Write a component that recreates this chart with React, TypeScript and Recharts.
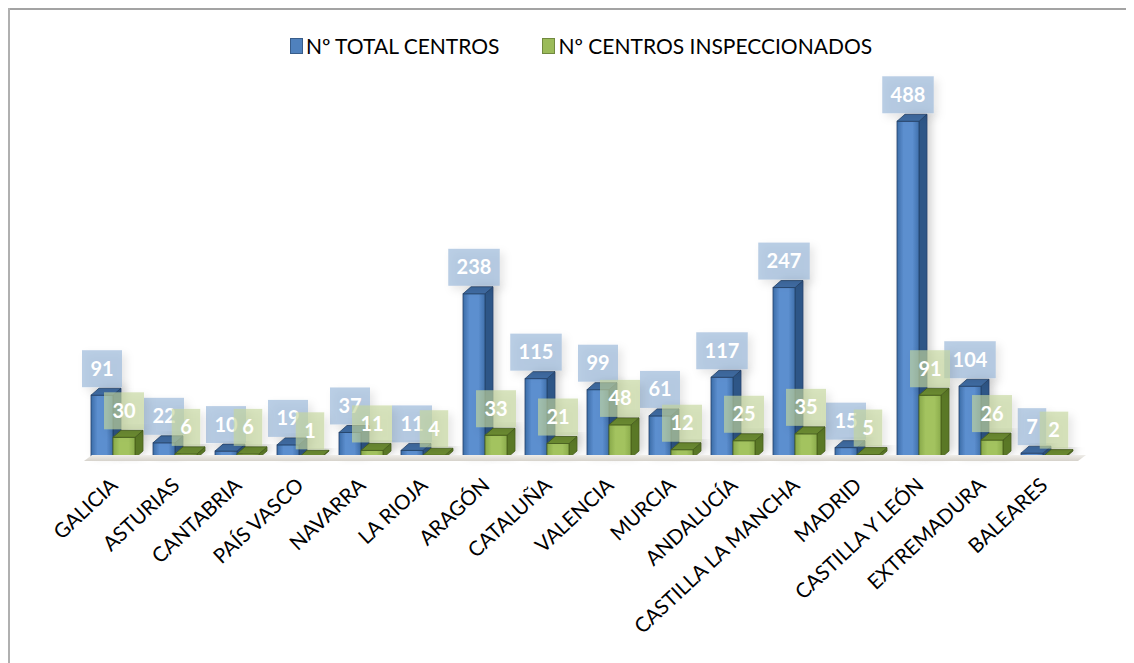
import React from "react";
import { BarChart, Bar, XAxis, YAxis, LabelList, Legend, ReferenceLine } from "recharts";

const categories = [
  "GALICIA", "ASTURIAS", "CANTABRIA", "PAÍS VASCO", "NAVARRA", "LA RIOJA", "ARAGÓN", "CATALUÑA",
  "VALENCIA", "MURCIA", "ANDALUCÍA", "CASTILLA LA MANCHA", "MADRID", "CASTILLA Y LEÓN", "EXTREMADURA", "BALEARES",
];
const totalCentros = [91, 22, 10, 19, 37, 11, 238, 115, 99, 61, 117, 247, 15, 488, 104, 7];
const centrosInspeccionados = [30, 6, 6, 1, 11, 4, 33, 21, 48, 12, 25, 35, 5, 91, 26, 2];
const seriesNames = ["Nº TOTAL CENTROS", "Nº CENTROS INSPECCIONADOS"];

const data = categories.map((name, i) => ({
  name,
  total: totalCentros[i],
  insp: centrosInspeccionados[i],
}));

const FONT = "Lato, 'Open Sans', sans-serif";
const DX = 8;
const DY = 7;

const palette = {
  blue: { front: "url(#gBlue)", top: "#3F6CA3", side: "#2F5687", stroke: "#24426A", legend: "#4F81BD", legendStroke: "#385D8A", box: "rgba(149,179,215,0.65)" },
  green: { front: "url(#gGreen)", top: "#6C8C30", side: "#5A7826", stroke: "#465E1D", legend: "#9BBB59", legendStroke: "#71893F", box: "rgba(195,214,155,0.65)" },
};

const make3D = (c: any) => (props: any) => {
  const { x, y, width, height } = props;
  if (x == null || y == null) return null;
  const w = width;
  const h = Math.max(height, 0);
  return (
    <g filter="url(#barShadow)">
      <polygon
        points={`${x + w},${y} ${x + w + DX},${y - DY} ${x + w + DX},${y + h - DY} ${x + w},${y + h}`}
        fill={c.side}
        stroke={c.stroke}
        strokeWidth={0.8}
      />
      <rect x={x} y={y} width={w} height={h} fill={c.front} stroke={c.stroke} strokeWidth={0.8} />
      <polygon
        points={`${x},${y} ${x + DX},${y - DY} ${x + w + DX},${y - DY} ${x + w},${y}`}
        fill={c.top}
        stroke={c.stroke}
        strokeWidth={0.8}
      />
    </g>
  );
};

const makeLabel = (c: any) => (props: any) => {
  const { x, y, width, value } = props;
  if (x == null || y == null) return null;
  const text = String(value);
  const bw = text.length * 11.5 + 17;
  const bh = 37;
  const cx = x + width / 2;
  const by = y - 8 - bh;
  return (
    <g>
      <rect x={cx - bw / 2} y={by} width={bw} height={bh} fill={c.box} filter="url(#boxShadow)" />
      <text
        x={cx}
        y={by + bh / 2 + 7}
        textAnchor="middle"
        fill="#ffffff"
        fontFamily={FONT}
        fontWeight={700}
        fontSize={20}
      >
        {text}
      </text>
    </g>
  );
};

const AxisTick = (props: any) => {
  const { x, y, payload } = props;
  const tx = x + 6;
  const ty = y + 21;
  return (
    <text
      x={tx}
      y={ty}
      transform={`rotate(-43, ${tx}, ${ty})`}
      textAnchor="end"
      fill="#000"
      fontFamily={FONT}
      fontSize={20.5}
    >
      {payload.value}
    </text>
  );
};

const Floor = (props: any) => {
  const { x1, x2, y1 } = props;
  if (x1 == null) return null;
  const l = x1 + 2;
  const r = x2 + 4;
  return (
    <polygon
      points={`${l},${y1 + 3} ${r},${y1 + 3} ${r + DX},${y1 - 3} ${l + DX},${y1 - 3}`}
      fill="url(#gFloor)"
    />
  );
};

const LegendContent = () => {
  const items = [palette.blue, palette.green];
  return (
    <div style={{ display: "flex", justifyContent: "center", alignItems: "center", fontFamily: FONT, fontSize: 21, color: "#000" }}>
      {seriesNames.map((n, i) => (
        <div key={n} style={{ display: "flex", alignItems: "center", marginLeft: i === 0 ? 0 : 43 }}>
          <span
            style={{
              display: "inline-block",
              width: 11,
              height: 14,
              background: items[i].legend,
              border: `1px solid ${items[i].legendStroke}`,
              marginRight: 3,
            }}
          />
          <span>{n}</span>
        </div>
      ))}
    </div>
  );
};

export default function App() {
  return (
    <div style={{ position: "relative", width: 1126, height: 655 }}>
      <div style={{ position: "absolute", left: 0, top: 0, width: 1126, height: 2, background: "#A3A3A3" }} />
      <div style={{ position: "absolute", left: 0, top: 0, width: 2, height: 655, background: "#B0B0B0" }} />
      <div style={{ position: "absolute", left: 0, top: 0 }}>
        <BarChart
          width={1126}
          height={655}
          data={data}
          margin={{ top: 105, right: 60, bottom: 5, left: 74 }}
          barGap={0}
          barSize={22}
        >
          <defs>
            <linearGradient id="gBlue" x1="0" y1="0" x2="1" y2="0">
              <stop offset="0%" stopColor="#3C6CA8" />
              <stop offset="30%" stopColor="#5C8FCF" />
              <stop offset="70%" stopColor="#5C8FCF" />
              <stop offset="100%" stopColor="#4070AC" />
            </linearGradient>
            <linearGradient id="gGreen" x1="0" y1="0" x2="1" y2="0">
              <stop offset="0%" stopColor="#88A94A" />
              <stop offset="30%" stopColor="#A3C35F" />
              <stop offset="70%" stopColor="#A3C35F" />
              <stop offset="100%" stopColor="#8BAC4C" />
            </linearGradient>
            <linearGradient id="gFloor" x1="0" y1="0" x2="0" y2="1">
              <stop offset="0%" stopColor="#EFEDE9" />
              <stop offset="100%" stopColor="#D6D2CB" />
            </linearGradient>
            <filter id="barShadow" x="-50%" y="-20%" width="200%" height="140%">
              <feDropShadow dx="4" dy="-2" stdDeviation="4" floodColor="#000" floodOpacity="0.18" />
            </filter>
            <filter id="boxShadow" x="-50%" y="-50%" width="200%" height="200%">
              <feDropShadow dx="4" dy="4" stdDeviation="4" floodColor="#000" floodOpacity="0.15" />
            </filter>
          </defs>
          <XAxis dataKey="name" axisLine={false} tickLine={false} interval={0} height={200} tick={<AxisTick />} />
          <YAxis hide domain={[0, 500]} />
          <Legend
            verticalAlign="middle"
            align="center"
            layout="horizontal"
            content={<LegendContent />}
            wrapperStyle={{ position: "absolute", top: 25, left: 10, width: 1126, height: 28 }}
          />
          <ReferenceLine y={0} shape={<Floor />} ifOverflow="visible" />
          <Bar dataKey="total" name={seriesNames[0]} shape={make3D(palette.blue)} isAnimationActive={false}>
            <LabelList dataKey="total" content={makeLabel(palette.blue)} />
          </Bar>
          <Bar dataKey="insp" name={seriesNames[1]} shape={make3D(palette.green)} isAnimationActive={false}>
            <LabelList dataKey="insp" content={makeLabel(palette.green)} />
          </Bar>
        </BarChart>
      </div>
    </div>
  );
}
